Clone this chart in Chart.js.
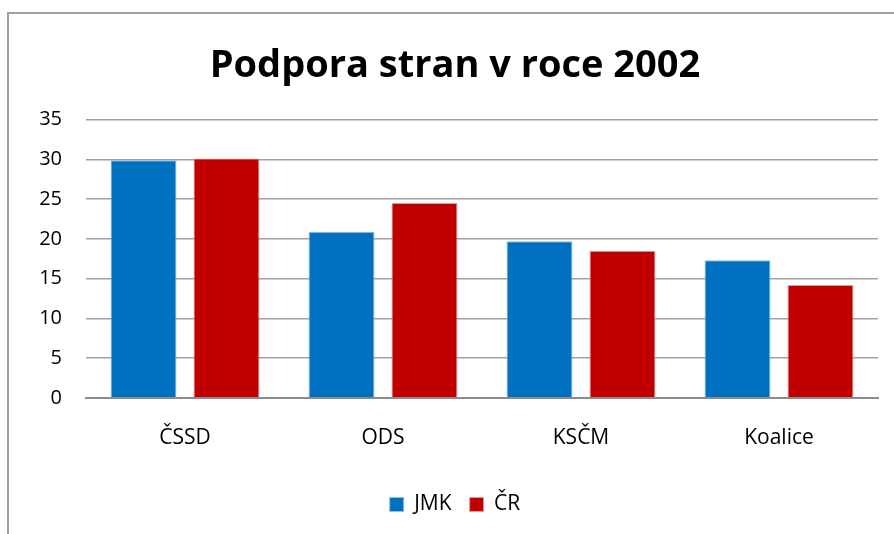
<!DOCTYPE html>
<html>
<head>
<meta charset="utf-8">
<script src="https://cdn.jsdelivr.net/npm/chart.js@4/dist/chart.umd.min.js"></script>
<style>
    html, body { margin: 0; padding: 0; background: #fff; overflow: hidden; }
    #wrap { position: relative; width: 894px; height: 534px; }
    #frame {
        position: absolute; left: 7px; top: 12px; width: 1000px; height: 1000px;
        border: 2px solid #a0a0a0; box-sizing: border-box;
    }
    canvas { position: absolute; left: 0; top: 0; }
</style>
</head>
<body>
<div id="wrap">
    <div id="frame"></div>
    <canvas id="chart" width="894" height="534"></canvas>
</div>
<script>
// data
const categories = ['ČSSD', 'ODS', 'KSČM', 'Koalice'];
const jmkValues = [29.9, 20.9, 19.7, 17.3];
const crValues = [30.1, 24.5, 18.5, 14.2];
const yTicks = [0, 5, 10, 15, 20, 25, 30, 35];

const FONT = '"Open Sans", "Noto Sans", sans-serif';

const ctx = document.getElementById('chart').getContext('2d');
new Chart(ctx, {
    type: 'bar',
    data: {
        labels: categories,
        datasets: [
            {
                label: 'JMK',
                data: jmkValues,
                backgroundColor: '#0070c0',
                borderColor: '#8fbde3',
                borderWidth: 1,
                categoryPercentage: 0.838,
                barPercentage: 0.795
            },
            {
                label: 'ČR',
                data: crValues,
                backgroundColor: '#c00000',
                borderColor: '#e39a9a',
                borderWidth: 1,
                categoryPercentage: 0.838,
                barPercentage: 0.795
            }
        ]
    },
    options: {
        responsive: false,
        animation: false,
        layout: { padding: { left: 16, right: 0, top: 43, bottom: 9 } },
        plugins: {
            title: {
                display: true,
                text: 'Podpora stran v roce 2002',
                color: '#000',
                font: { family: FONT, size: 38, weight: 'bold' },
                padding: { top: 0, bottom: 31 }
            },
            legend: {
                position: 'bottom',
                labels: {
                    color: '#000',
                    font: { family: FONT, size: 21 },
                    boxWidth: 14,
                    boxHeight: 14,
                    padding: 18
                }
            },
            tooltip: { enabled: false }
        },
        scales: {
            x: {
                afterFit: axis => { axis.height += 5; },
                grid: { display: false },
                border: { color: '#8c8c8c', width: 2 },
                ticks: { color: '#000', font: { family: FONT, size: 21 }, padding: 20 }
            },
            y: {
                min: 0,
                max: 35,
                afterBuildTicks: axis => { axis.ticks = yTicks.map(v => ({ value: v })); },
                afterFit: axis => { axis.width = 70; },
                grid: { color: '#a0a0a0', lineWidth: 1.5, drawTicks: false },
                border: { display: false },
                ticks: { color: '#000', font: { family: FONT, size: 20 }, padding: 24 }
            },
            // empty right axis, keeps a small margin after the plot
            yRight: {
                position: 'right',
                afterFit: axis => { axis.width = 16; },
                grid: { display: false },
                border: { display: false },
                ticks: { display: false }
            }
        }
    }
});
</script>
</body>
</html>
